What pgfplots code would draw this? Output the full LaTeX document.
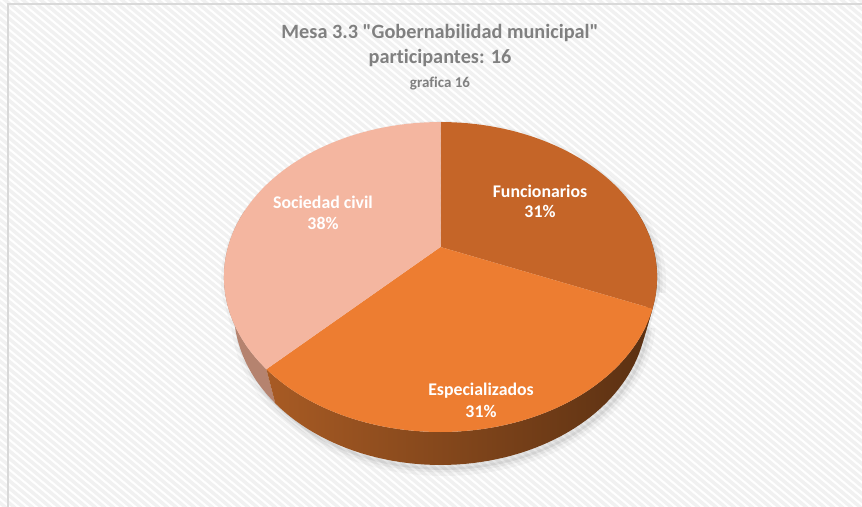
\documentclass[border=0pt]{standalone}
\usepackage{pgfplots}
\pgfplotsset{compat=1.18}
\usepackage{pgfplotstable}
\usepackage{fontspec}
\newfontfamily\calfont{Carlito}[Ligatures=NoCommon]

\definecolor{funTop}{HTML}{C56528}
\definecolor{espTop}{HTML}{ED7D31}
\definecolor{socTop}{HTML}{F4B6A0}
\definecolor{funSide}{HTML}{6B3915}
\definecolor{espSideL}{HTML}{A85B24}
\definecolor{espSideR}{HTML}{5A3012}
\definecolor{socSide}{HTML}{B5836F}
\definecolor{titlegray}{HTML}{808080}
\definecolor{stripe}{HTML}{F1F1F1}
\definecolor{frame}{HTML}{D9D9D9}

% participants per group
\pgfplotstableread{
group share
Funcionarios 5
Especializados 5
Sociedad 6
}\piedata

% projection of the tilted disc (pixel coords, y down)
\def\cx{440.5}\def\cy{247}\def\kk{212.5}
\def\ca{0.702}\def\sa{0.712}\def\rr{0.272}\def\thk{0.2425}
\newcommand\proj[2]{%
  \pgfmathsetmacro\pZ{sin(#1)*\sa+#2*\thk*\ca}%
  \pgfmathsetmacro\pd{1+\rr*\pZ}%
  \pgfmathsetmacro\px{\cx+\kk*cos(#1)/\pd}%
  \pgfmathsetmacro\py{\cy-\kk*(sin(#1)*\ca-#2*\thk*\sa)/\pd}%
}
\newcommand\addarc[5]{%
  \foreach \i in {0,...,#5}{%
    \pgfmathsetmacro\ang{#2+(#3-#2)*\i/#5}%
    \proj{\ang}{#4}%
    \xdef#1{#1 (\px,\py)}%
  }%
}

\begin{document}
\begin{tikzpicture}[x=1pt,y=1pt]
\useasboundingbox (0,0) rectangle (862,506);
% angles from the data
\pgfplotstablegetelem{0}{share}\of\piedata \let\vA\pgfplotsretval
\pgfplotstablegetelem{1}{share}\of\piedata \let\vB\pgfplotsretval
\pgfplotstablegetelem{2}{share}\of\piedata \let\vC\pgfplotsretval
\pgfmathsetmacro\tot{\vA+\vB+\vC}
\pgfmathsetmacro\aA{90-360*\vA/\tot}
\pgfmathsetmacro\aB{\aA-360*\vB/\tot}
\pgfmathsetmacro\aC{\aB-360*\vC/\tot}

\xdef\topA{(\cx,\cy)}\addarc\topA{90}{\aA}{0}{50}
\xdef\topB{(\cx,\cy)}\addarc\topB{\aA}{\aB}{0}{50}
\xdef\topC{(\cx,\cy)}\addarc\topC{\aB}{\aC}{0}{60}
\xdef\sideA{}\addarc\sideA{15}{\aA}{0}{20}\addarc\sideA{\aA}{15}{1}{20}
\xdef\sideB{}\addarc\sideB{\aA}{\aB}{0}{60}\addarc\sideB{\aB}{\aA}{1}{60}
\xdef\sideC{}\addarc\sideC{\aB}{-195}{0}{20}\addarc\sideC{-195}{\aB}{1}{20}
\xdef\outl{}\addarc\outl{-15}{195}{0}{70}\addarc\outl{195}{345}{1}{60}

% background
\fill[white] (0,0) rectangle (862,506);
\begin{scope}
  \clip (0,0) rectangle (862,506);
  \foreach \s in {-75,...,100}{\draw[stripe, line width=3.4] ({\s*9},510) -- ++(640,-530);}
  \draw[frame, line width=1.5] (8,-5) -- (8,502) -- (870,502);
\end{scope}

\begin{axis}[at={(0,0)}, anchor=south west, scale only axis,
  width=862pt, height=506pt, xmin=0, xmax=862, ymin=0, ymax=506,
  y dir=reverse, hide axis, clip=false]
  % shadow
  \edef\tmp{\noexpand\addplot[draw=black, draw opacity=0.03, line width=12pt, fill=black, fill opacity=0.06, xshift=3pt, yshift=-5pt] coordinates {\outl};}\tmp
  \edef\tmp{\noexpand\addplot[draw=black, draw opacity=0.04, line width=5pt, xshift=3pt, yshift=-5pt] coordinates {\outl};}\tmp
  % sides
  \edef\tmp{\noexpand\addplot[fill=funSide, draw=none] coordinates {\sideA};}\tmp
  \edef\tmp{\noexpand\addplot[fill=socSide, draw=none] coordinates {\sideC};}\tmp
  \edef\tmp{\noexpand\addplot[left color=espSideL, right color=espSideR, draw=none] coordinates {\sideB};}\tmp
  % top faces
  \edef\tmp{\noexpand\addplot[fill=funTop, draw=none] coordinates {\topA};}\tmp
  \edef\tmp{\noexpand\addplot[fill=espTop, draw=none] coordinates {\topB};}\tmp
  \edef\tmp{\noexpand\addplot[fill=socTop, draw=none] coordinates {\topC};}\tmp

  % titles
  \node[anchor=base, text=titlegray, font=\calfont\fontsize{20.3}{24}\selectfont\bfseries] at (axis cs:440,38) {Mesa 3.3 "Gobernabilidad municipal"};
  \node[anchor=base, text=titlegray, font=\calfont\fontsize{20.3}{24}\selectfont\bfseries] at (axis cs:440,63) {participantes: 16};
  \node[anchor=base, text=titlegray, font=\calfont\fontsize{15}{18}\selectfont\bfseries] at (axis cs:440,87) {grafica 16};

  % data labels
  \node[anchor=base, text=white, font=\calfont\fontsize{17.8}{21}\selectfont\bfseries] at (axis cs:540,197) {Funcionarios};
  \node[anchor=base, text=white, font=\calfont\fontsize{17.8}{21}\selectfont\bfseries] at (axis cs:540,217) {31\%};
  \node[anchor=base, text=white, font=\calfont\fontsize{17.8}{21}\selectfont\bfseries] at (axis cs:323,208) {Sociedad civil};
  \node[anchor=base, text=white, font=\calfont\fontsize{17.8}{21}\selectfont\bfseries] at (axis cs:323,229) {38\%};
  \node[anchor=base, text=white, font=\calfont\fontsize{17.8}{21}\selectfont\bfseries] at (axis cs:481,395) {Especializados};
  \node[anchor=base, text=white, font=\calfont\fontsize{17.8}{21}\selectfont\bfseries] at (axis cs:481,417) {31\%};
\end{axis}
\end{tikzpicture}
\end{document}
